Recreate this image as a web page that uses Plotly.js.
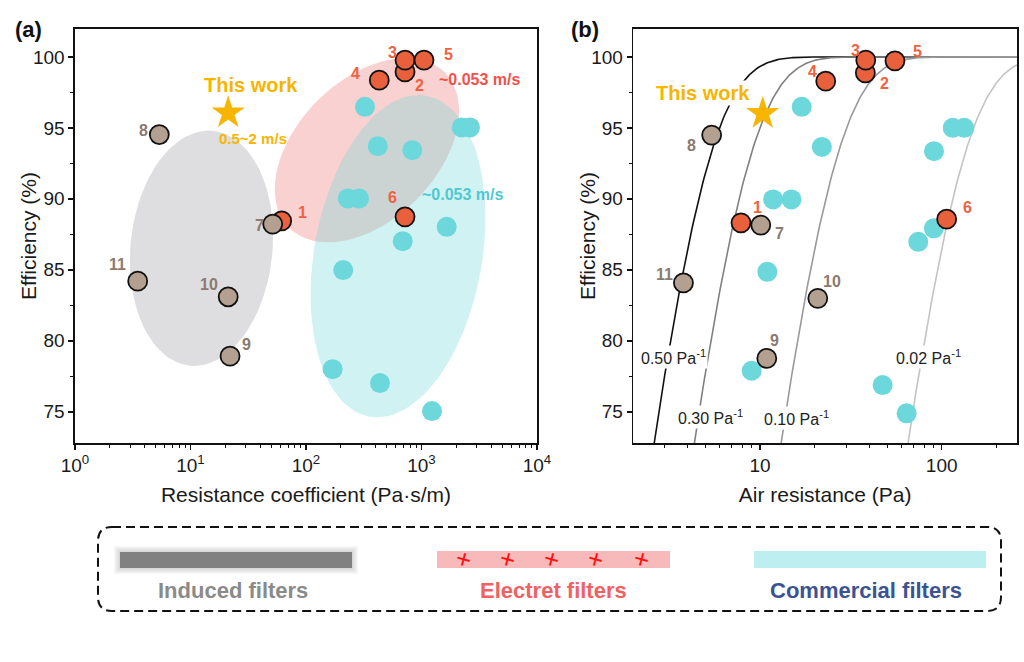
<!DOCTYPE html>
<html>
<head>
<meta charset="utf-8">
<script src="https://cdn.plot.ly/plotly-3.0.1.min.js"></script>
<style>html,body{margin:0;padding:0;background:#fff;}#chart{width:1024px;height:662px;}</style>
</head>
<body>
<div id="chart"></div>
<script>
// ---------------- Data ----------------
// Panel (a): resistance coefficient (Pa·s/m) vs efficiency (%)
const electretLabels = ['1', '2', '3', '4', '5', '6'];
const electretCoef = [61.6, 720, 720, 431, 1051, 720];
const electretEffA = [88.45, 98.94, 99.77, 98.36, 99.77, 88.73];

const inducedLabels = ['7', '8', '9', '10', '11'];
const inducedCoef = [51.5, 5.37, 22.0, 21.2, 3.49];
const inducedEffA = [88.22, 94.53, 78.92, 83.1, 84.2];

const commercialCoef = [324, 2229, 2630, 418, 832, 230, 288, 1652, 688, 210, 170, 437, 1233];
const commercialEffA = [96.48, 95.03, 95.03, 93.71, 93.43, 90.03, 90.03, 88.03, 87.02, 84.98, 78.0, 77.02, 75.05];

const thisWorkCoef = [21.2];
const thisWorkEffA = [96.06];

// Panel (b): air resistance (Pa) vs efficiency (%)
const electretRes = [7.86, 38.0, 38.2, 23.0, 55.3, 106.5];
const electretEffB = [88.31, 98.87, 99.77, 98.29, 99.72, 88.57];

const inducedRes = [10.1, 5.42, 10.9, 20.8, 3.79];
const inducedEffB = [88.15, 94.49, 78.76, 82.99, 84.08];

const commercialRes = [16.96, 115, 133, 21.9, 90.7, 11.8, 14.9, 90.5, 74.3, 10.97, 9.0, 47.3, 64.1];
const commercialEffB = [96.48, 95.0, 95.0, 93.66, 93.36, 89.96, 89.96, 87.92, 86.97, 84.86, 77.89, 76.88, 74.89];

const thisWorkRes = [10.35];
const thisWorkEffB = [96.01];

// Quality factor iso-lines (Pa^-1)
const qfValues = [0.50, 0.30, 0.10, 0.02];
const qfLabels = ['0.50 Pa<sup>-1</sup>', '0.30 Pa<sup>-1</sup>', '0.10 Pa<sup>-1</sup>', '0.02 Pa<sup>-1</sup>'];

// Axis ticks
const tickValsA = [1, 10, 100, 1000, 10000];
const tickTextA = ['10<sup>0</sup>', '10<sup>1</sup>', '10<sup>2</sup>', '10<sup>3</sup>', '10<sup>4</sup>'];
const tickValsB = [10, 100];
const tickTextB = ['10', '100'];

// Legend entries
const legendNames = ['Induced filters', 'Electret filters', 'Commercial filters'];

// ---------------- Styles / layout geometry ----------------
const W = 1024, H = 662;
const FONT = '"Liberation Sans", Arial, sans-serif';
const xDomA = [75 / W, 537 / W];
const xDomB = [633.3 / W, 1017 / W];
const yDom = [1 - 443 / H, 1 - 28.5 / H];
const xRangeA = [0, 4];
const xRangeB = [0.3027, 2.4144];
const yRange = [72.8, 102];

const C_ELECTRET = '#e9603c';
const C_ELECTRET_TXT = '#ef6240';
const C_INDUCED = '#b4a090';
const C_INDUCED_TXT = '#8b7a6d';
const C_COMM = '#6cd8dc';
const C_GOLD = '#f7b500';

// pixel scales of panel (a) (for drawing ellipses in screen proportions)
const pxPerDecA = (xDomA[1] - xDomA[0]) * W / (xRangeA[1] - xRangeA[0]);
const pxPerPctA = (yDom[1] - yDom[0]) * H / (yRange[1] - yRange[0]);

function ellipse(cx, cy, a, b, thetaDeg) {
  const th = thetaDeg * Math.PI / 180;
  const xs = [], ys = [];
  for (let i = 0; i <= 96; i++) {
    const t = i / 96 * 2 * Math.PI;
    const sx = a * Math.cos(t) * Math.sin(th) + b * Math.sin(t) * Math.cos(th);
    const sy = -a * Math.cos(t) * Math.cos(th) + b * Math.sin(t) * Math.sin(th);
    xs.push(Math.pow(10, Math.log10(cx) + sx / pxPerDecA));
    ys.push(cy - sy / pxPerPctA);
  }
  return {xs, ys};
}

const traces = [];
function fillTrace(e, color) {
  return {x: e.xs, y: e.ys, xaxis: 'x', yaxis: 'y', mode: 'lines', fill: 'toself',
    fillcolor: color, line: {width: 0, color: 'rgba(0,0,0,0)'}, hoverinfo: 'skip', showlegend: false};
}
// Region ellipses (panel a)
traces.push(fillTrace(ellipse(12.45, 86.52, 118, 71, 5.6), 'rgba(200,200,204,0.6)'));
traces.push(fillTrace(ellipse(337, 93.43, 110, 70, 45), 'rgba(240,140,140,0.4)'));
traces.push(fillTrace(ellipse(626, 85.96, 163, 84, 10), 'rgba(112,215,215,0.33)'));

// QF curves (panel b)
const qfColors = ['#111111', '#808080', '#9a9a9a', '#c4c4c4'];
const dp = [];
for (let i = 0; i <= 300; i++) dp.push(Math.pow(10, 0.25 + i / 300 * 2.25));
qfValues.forEach((qf, k) => {
  traces.push({x: dp, y: dp.map(p => 100 * (1 - Math.exp(-qf * p))), xaxis: 'x2', yaxis: 'y2',
    mode: 'lines', line: {color: qfColors[k], width: 1.6}, hoverinfo: 'skip', showlegend: false});
});

function pts(x, y, ax, ay, marker) {
  return {x, y, xaxis: ax, yaxis: ay, mode: 'markers', marker, hoverinfo: 'skip', showlegend: false, cliponaxis: false};
}
const mComm = {color: C_COMM, size: 20, line: {width: 0}};
const mElec = {color: C_ELECTRET, size: 19, line: {color: '#111', width: 1.8}};
const mInd = {color: C_INDUCED, size: 19, line: {color: '#111', width: 1.8}};
const mStar = {color: C_GOLD, size: 25, symbol: 'star', line: {width: 0}};

traces.push(pts(commercialCoef, commercialEffA, 'x', 'y', mComm));
traces.push(pts(electretCoef, electretEffA, 'x', 'y', mElec));
traces.push(pts(inducedCoef, inducedEffA, 'x', 'y', mInd));
traces.push(pts(thisWorkCoef, thisWorkEffA, 'x', 'y', mStar));

traces.push(pts(commercialRes, commercialEffB, 'x2', 'y2', mComm));
traces.push(pts(electretRes, electretEffB, 'x2', 'y2', mElec));
traces.push(pts(inducedRes, inducedEffB, 'x2', 'y2', mInd));
traces.push(pts(thisWorkRes, thisWorkEffB, 'x2', 'y2', mStar));

// ---------------- Annotations ----------------
const ann = [];
function lab(text, x, y, xr, yr, dx, dy, color, size, extra) {
  ann.push(Object.assign({text, x: Math.log10(x), y, xref: xr, yref: yr, xshift: dx, yshift: -dy,
    xanchor: 'center', yanchor: 'middle',
    showarrow: false, font: {family: FONT, size, color}}, extra || {}));
}
// panel (a) label offsets (screen px)
const elecOffA = [[21, -8], [14, 14], [-13, -8], [-24, -7], [24, -6], [-13, -19]];
const indOffA = [[-13, 1], [-16, -4], [16, -12], [-19, -12], [-20, -17]];
electretLabels.forEach((t, i) => lab('<b>' + t + '</b>', electretCoef[i], electretEffA[i], 'x', 'y', elecOffA[i][0], elecOffA[i][1], C_ELECTRET_TXT, 16));
inducedLabels.forEach((t, i) => lab('<b>' + t + '</b>', inducedCoef[i], inducedEffA[i], 'x', 'y', indOffA[i][0], indOffA[i][1], C_INDUCED_TXT, 16));
lab('<b>This work</b>', thisWorkCoef[0], thisWorkEffA[0], 'x', 'y', 23, -28, C_GOLD, 20);
lab('<b>0.5~2 m/s</b>', thisWorkCoef[0], thisWorkEffA[0], 'x', 'y', 25, 26, C_GOLD, 15);
lab('<b>~0.053 m/s</b>', electretCoef[4], electretEffA[4], 'x', 'y', 56, 19, '#f4504a', 16);
lab('<b>~0.053 m/s</b>', electretCoef[5], electretEffA[5], 'x', 'y', 58, -22, '#4fc8d2', 16);

// panel (b)
const elecOffB = [[16, -15], [19, 11], [-10, -10], [-13, -10], [23, -9], [21, -12]];
const indOffB = [[19, 8], [-20, 10], [8, -18], [14, -17], [-19, -8]];
electretLabels.forEach((t, i) => lab('<b>' + t + '</b>', electretRes[i], electretEffB[i], 'x2', 'y2', elecOffB[i][0], elecOffB[i][1], C_ELECTRET_TXT, 16));
inducedLabels.forEach((t, i) => lab('<b>' + t + '</b>', inducedRes[i], inducedEffB[i], 'x2', 'y2', indOffB[i][0], indOffB[i][1], C_INDUCED_TXT, 16));
lab('<b>This work</b>', thisWorkRes[0], thisWorkEffB[0], 'x2', 'y2', -60, -21, C_GOLD, 20, {bgcolor: '#fff', borderpad: 1});

// QF labels
const qfLabelPos = [[3.36, 78.87], [5.31, 74.64], [15.98, 74.55], [85.1, 78.87]];
qfLabels.forEach((t, i) => lab(t, qfLabelPos[i][0], qfLabelPos[i][1], 'x2', 'y2', 0, 0, '#222', 16, {bgcolor: '#fff', borderpad: 1}));

// Paper-positioned texts
const px = v => v / W, py = v => 1 - v / H;
function paperText(text, x, y, size, color, extra) {
  ann.push(Object.assign({text, x: px(x), y: py(y), xref: 'paper', yref: 'paper', xanchor: 'center', yanchor: 'middle',
    showarrow: false, font: {family: FONT, size, color}}, extra || {}));
}
paperText('<b>(a)</b>', 28, 30, 22, '#111');
paperText('<b>(b)</b>', 585, 30, 22, '#111');

// Y-axis titles (placed close to tick labels as in the reference)
paperText('Efficiency (%)', 29, 236, 21, '#1a1a1a', {textangle: -90});
paperText('Efficiency (%)', 588, 236, 21, '#1a1a1a', {textangle: -90});

// Legend box text
paperText('<b>' + legendNames[0] + '</b>', 233, 590, 22, '#8a8a8a');
paperText('<b>' + legendNames[1] + '</b>', 553, 590, 22, '#f06262');
paperText('<b>' + legendNames[2] + '</b>', 866, 590, 22, '#3a5394');
[463.5, 507.6, 551.8, 595.9, 641.8].forEach(cx => paperText('+', cx, 559, 26, '#ff1010', {textangle: 15}));

// ---------------- Shapes (legend box) ----------------
const shapes = [];
function rect(x0, y0, x1, y1, fill) {
  shapes.push({type: 'rect', xref: 'paper', yref: 'paper', x0: px(x0), x1: px(x1), y0: py(y1), y1: py(y0), fillcolor: fill, line: {width: 0}, layer: 'below'});
}
[6, 5, 4, 3, 2, 1].forEach(g => rect(120 - g, 552 - g, 352 + g, 568 + g, 'rgba(120,120,120,0.05)'));
rect(120, 552, 352, 568, '#808080');
rect(437, 551, 670, 568, '#f7b9b9');
rect(754, 551, 986, 568, '#bdeef0');
(function () {
  const l = 98, r = 1001, t = 527, b = 611, rr = 14;
  const P = (x, y) => px(x) + ',' + py(y);
  const path = 'M' + P(l + rr, t) + ' L' + P(r - rr, t) + ' Q' + P(r, t) + ' ' + P(r, t + rr) +
    ' L' + P(r, b - rr) + ' Q' + P(r, b) + ' ' + P(r - rr, b) + ' L' + P(l + rr, b) +
    ' Q' + P(l, b) + ' ' + P(l, b - rr) + ' L' + P(l, t + rr) + ' Q' + P(l, t) + ' ' + P(l + rr, t) + ' Z';
  shapes.push({type: 'path', xref: 'paper', yref: 'paper', path, line: {color: '#111', width: 2, dash: '9px,5px'}, fillcolor: 'rgba(0,0,0,0)'});
})();

// ---------------- Axes ----------------
const tickFont = {family: FONT, size: 19, color: '#1a1a1a'};
const titleFont = {family: FONT, size: 21, color: '#1a1a1a'};
function minorVals(lo, hi) {
  const v = [];
  for (let d = lo; d < hi; d++) for (let m = 2; m <= 9; m++) v.push(m * Math.pow(10, d));
  return v;
}
const common = {showline: true, mirror: true, linecolor: '#111', linewidth: 1.6, showgrid: false, zeroline: false,
  ticks: 'outside', ticklen: 5, tickwidth: 1.5, tickcolor: '#111', tickfont: tickFont};

const layout = {
  width: W, height: H, margin: {l: 0, r: 0, t: 0, b: 0}, paper_bgcolor: '#fff', plot_bgcolor: '#fff',
  showlegend: false, hovermode: false,
  xaxis: Object.assign({}, common, {type: 'log', domain: xDomA, range: xRangeA, anchor: 'y',
    tickmode: 'array', tickvals: tickValsA, ticktext: tickTextA,
    minor: {tickmode: 'array', tickvals: minorVals(0, 4), ticks: 'outside', ticklen: 3, tickwidth: 1, tickcolor: '#111'},
    title: {text: 'Resistance coefficient (Pa·s/m)', font: titleFont, standoff: 12}}),
  yaxis: Object.assign({}, common, {domain: yDom, range: yRange, anchor: 'x', tick0: 0, dtick: 5,
    minor: {tick0: 0, dtick: 2.5, ticks: 'outside', ticklen: 3, tickwidth: 1, tickcolor: '#111'}}),
  xaxis2: Object.assign({}, common, {type: 'log', domain: xDomB, range: xRangeB, anchor: 'y2',
    tickmode: 'array', tickvals: tickValsB, ticktext: tickTextB,
    minor: {tickmode: 'array', tickvals: minorVals(0, 3), ticks: 'outside', ticklen: 3, tickwidth: 1, tickcolor: '#111'},
    title: {text: 'Air resistance (Pa)', font: titleFont, standoff: 12}}),
  yaxis2: Object.assign({}, common, {domain: yDom, range: yRange, anchor: 'x2', tick0: 0, dtick: 5,
    minor: {tick0: 0, dtick: 2.5, ticks: 'outside', ticklen: 3, tickwidth: 1, tickcolor: '#111'}}),
  annotations: ann,
  shapes: shapes
};

Plotly.newPlot('chart', traces, layout, {staticPlot: true, displayModeBar: false});
</script>
</body>
</html>
